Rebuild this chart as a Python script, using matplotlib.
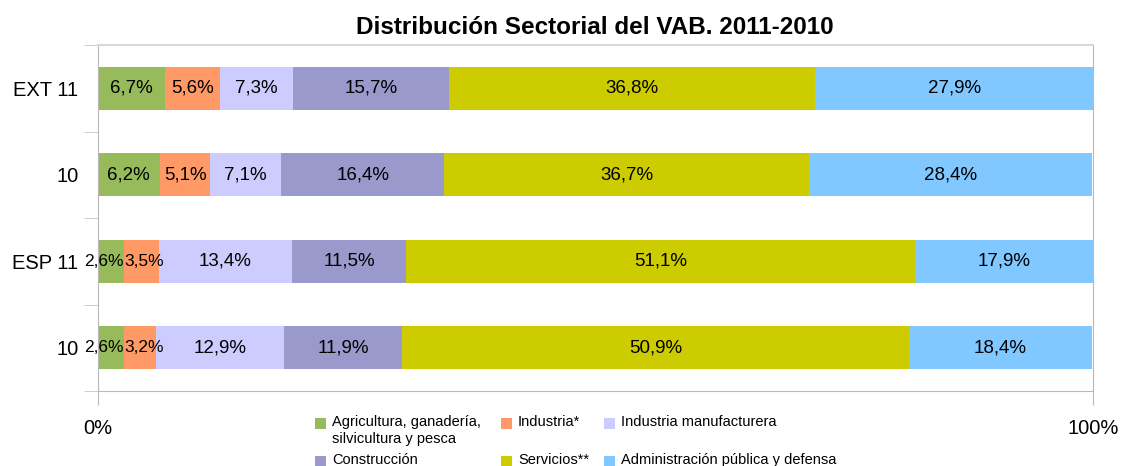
import matplotlib
matplotlib.use('Agg')
import matplotlib.pyplot as plt
from matplotlib.patches import Rectangle
import numpy as np

plt.rcParams['font.family'] = ['Liberation Sans', 'DejaVu Sans']

filas = ['EXT 11', '10', 'ESP 11', '10']
sectores = ['Agricultura, ganadería,\nsilvicultura y pesca', 'Industria*', 'Industria manufacturera',
            'Construcción', 'Servicios**', 'Administración pública y defensa']
colores = ['#97BB5B', '#FF9966', '#CCCCFF', '#9999CC', '#CCCC00', '#80C8FF']

agricultura = [6.7, 6.2, 2.6, 2.6]
industria = [5.6, 5.1, 3.5, 3.2]
manufacturera = [7.3, 7.1, 13.4, 12.9]
construccion = [15.7, 16.4, 11.5, 11.9]
servicios = [36.8, 36.7, 51.1, 50.9]
administracion = [27.9, 28.4, 17.9, 18.4]

series = [agricultura, industria, manufacturera, construccion, servicios, administracion]

W, H = 1122, 466
fig = plt.figure(figsize=(W / 100, H / 100), dpi=100)
ax = fig.add_axes([98 / W, 1 - 391 / H, 995 / W, 346 / H])

y = np.arange(len(filas))
left = np.zeros(len(filas))
for k, (vals, nombre, col) in enumerate(zip(series, sectores, colores)):
    vals = np.array(vals)
    ax.barh(y, vals, left=left, height=0.5, color=col, label=nombre)
    for yi, li, v in zip(y, left, vals):
        txt = f'{v:.1f}%'.replace('.', ',')
        fs = 13.5
        # segmentos muy estrechos: la etiqueta se apoya en el borde, como en el original
        if v < 4 and k == 0:
            xt, ha, fs = li + v, 'right', 12.5
        elif v < 4:
            xt, ha, fs = li, 'left', 12.5
        else:
            xt, ha = li + v / 2, 'center'
        ax.text(xt, yi, txt, ha=ha, va='center', fontsize=fs, color='black')
    left += vals

ax.set_xlim(0, 100)
ax.set_ylim(len(filas) - 0.5, -0.5)
ax.set_yticks(y)
ax.set_yticklabels(filas, fontsize=14.5)
ax.set_yticks(np.arange(len(filas) + 1) - 0.5, minor=True)
ax.tick_params(axis='y', which='major', length=0, pad=14)
ax.tick_params(axis='y', which='minor', length=10, color='#C8C8C8')
ax.set_xticks([0, 100])
ax.set_xticklabels(['0%', '100%'], fontsize=14.5)
ax.tick_params(axis='x', length=10, color='#BBBBBB', pad=10)

ax.spines['top'].set_color('#D8D8D8')
ax.spines['top'].set_linewidth(1.5)
for s in ['left', 'bottom', 'right']:
    ax.spines[s].set_color('#B8B8B8')

fig.text(595 / W, 1 - 28 / H, 'Distribución Sectorial del VAB. 2011-2010', fontsize=17.5,
         fontweight='bold', ha='center', va='center')

# leyenda a mano: 3 columnas, 2 filas (la primera con texto en dos líneas)
col_x = [315, 501, 604]
fila_y = [423, 461]
pos = [(0, 0), (1, 0), (2, 0), (0, 1), (1, 1), (2, 1)]
for (c, r), nombre, col in zip(pos, sectores, colores):
    x0, y0 = col_x[c], fila_y[r]
    fig.patches.append(Rectangle((x0 / W, 1 - (y0 + 5.5) / H), 11 / W, 11 / H,
                                 transform=fig.transFigure, facecolor=col, edgecolor='none'))
    fig.text((x0 + 17) / W, 1 - (y0 - 8) / H, nombre, fontsize=10.5, ha='left', va='top',
             linespacing=1.25)

fig.savefig('out.png', dpi=100)
